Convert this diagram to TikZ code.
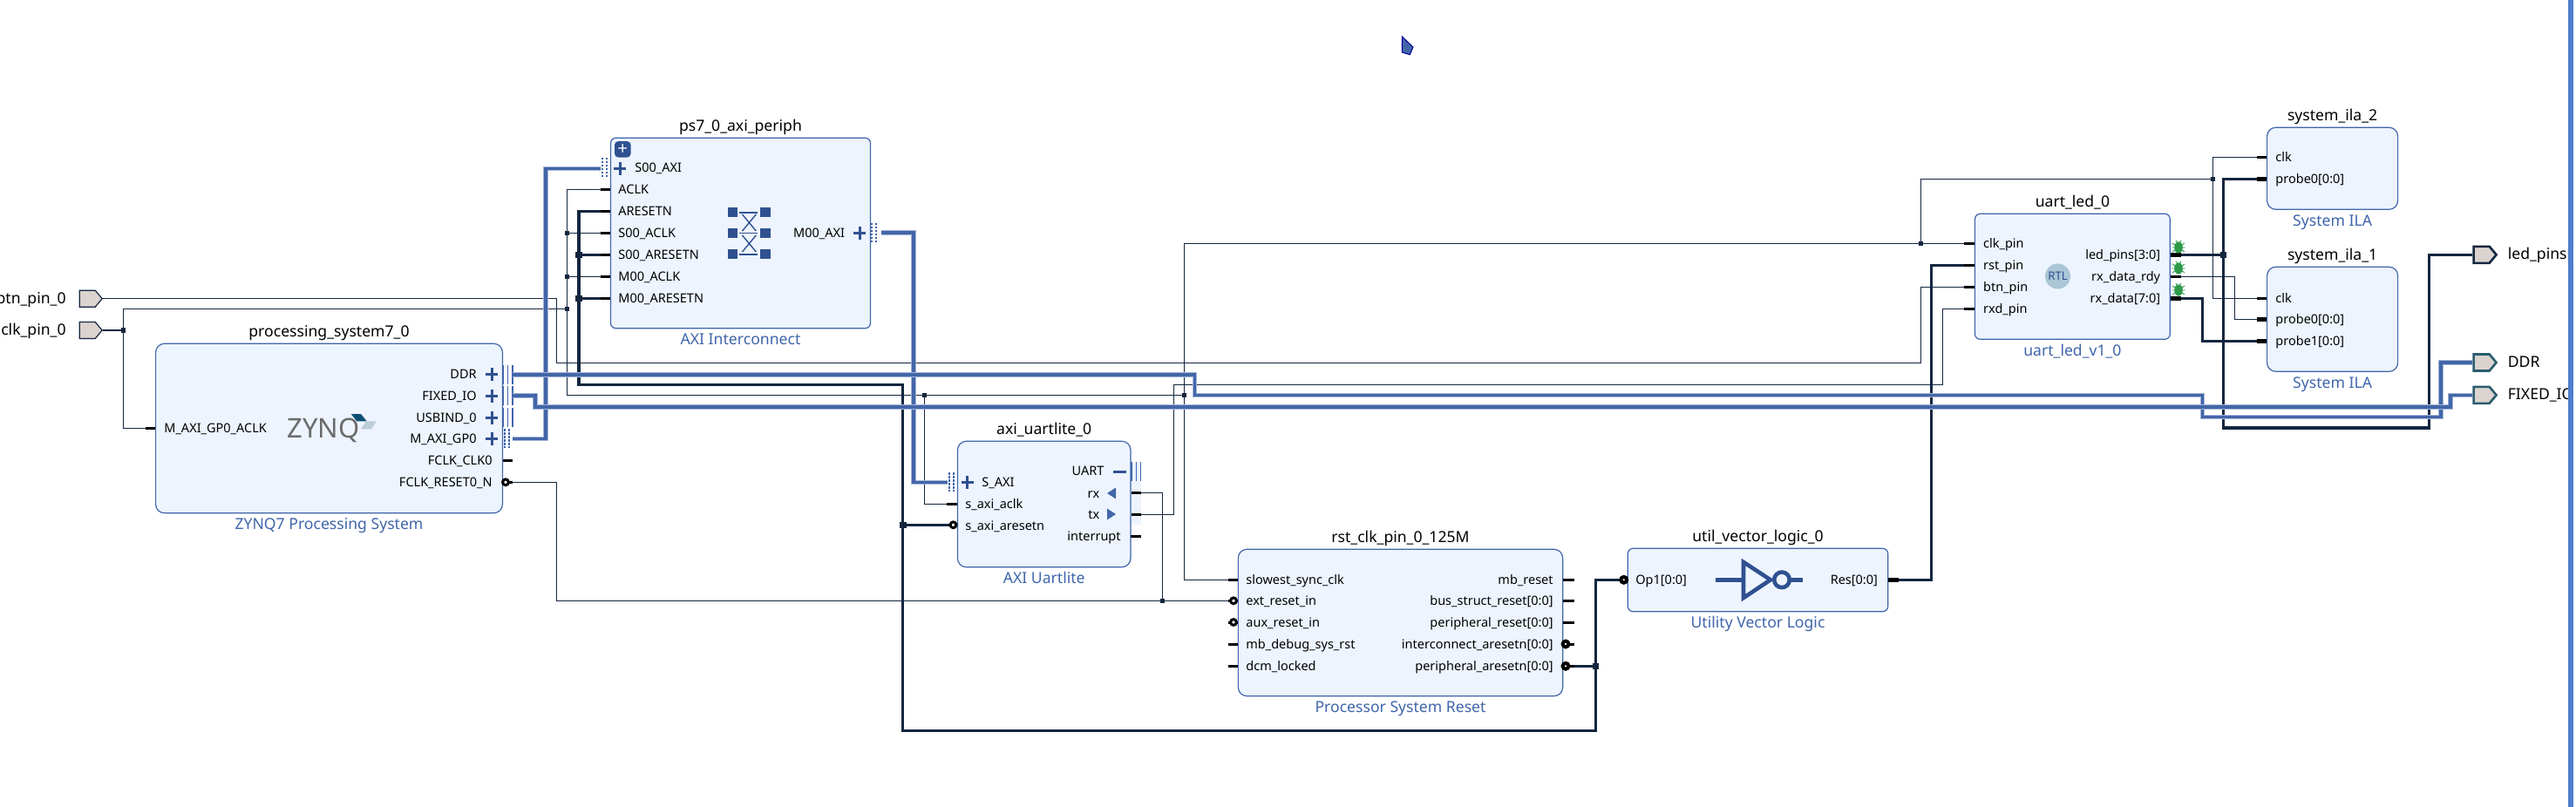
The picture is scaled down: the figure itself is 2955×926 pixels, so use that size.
\documentclass[tikz,border=0pt]{standalone}
\usepackage{fontspec}
\setmainfont{Noto Sans}
\usetikzlibrary{positioning, shapes.symbols}
\definecolor{netcol}{HTML}{13263F}
\definecolor{buscol}{HTML}{4366A8}
\definecolor{halocol}{HTML}{A3B5D8}
\definecolor{blockfill}{HTML}{EDF4FE}
\definecolor{blockline}{HTML}{3F65AB}
\definecolor{iconcol}{HTML}{2F5190}
\definecolor{portfill}{HTML}{DBD3CF}
\definecolor{ddrcol}{HTML}{2A5D6E}
\definecolor{rtlcol}{HTML}{ABC6D6}
\definecolor{bugcol}{HTML}{2E9A4A}
\definecolor{edgecol}{HTML}{4F7ECB}
\definecolor{logodark}{HTML}{0D4F74}
\definecolor{logolight}{HTML}{BCCDD8}
\tikzset{
    block/.style={draw=blockline, fill=blockfill, line width=0.6pt, inner sep=0pt, rounded corners=5pt},
    chamfer block/.style={draw=blockline, fill=blockfill, line width=0.6pt, inner sep=0pt, rounded corners=3pt},
    blocktitle/.style={inner sep=0pt, text height=8pt, text depth=2.5pt, font=\fontsize{8.8}{10}\selectfont},
    blocktype/.style={inner sep=0pt, text height=8pt, text depth=2.5pt, text=blockline, font=\fontsize{8.8}{10}\selectfont},
    pinlabel/.style={inner sep=0pt, text height=7pt, text depth=2pt, font=\fontsize{7.25}{8}\selectfont},
    stub/.style={line width=1.5pt, black},
    fatstub/.style={line width=2.4pt, black},
    bubble/.style={draw=black, fill=white, line width=1.5pt},
    darkbubble/.style={draw=black, fill=white, line width=2pt},
    wire/.style={line width=0.65pt, netcol},
    fatwire/.style={line width=1.7pt, netcol},
    bus/.style={line width=0.5pt, draw=halocol, double=buscol, double distance=1.8pt},
    jct/.style={fill=netcol, inner sep=0pt, minimum size=2.6pt},
    fatjct/.style={fill=netcol, inner sep=0pt, minimum size=3.8pt},
    extport/.style={signal, signal to=east, signal pointer angle=100, fill=portfill, inner sep=0pt, minimum width=13pt, minimum height=9.5pt, anchor=west},
    plusmark/.pic={\draw[line width=1.5pt, iconcol] (-7,0) -- (7,0) (0,-7.5) -- (0,7.5);},
    ifbus/.pic={\foreach \d in {0,5.2,10.4} {\draw[line width=0.6pt, blockline] (\d,-11) -- (\d,11);}},
    ifdots/.pic={\foreach \d in {0,5} {\draw[line width=1.1pt, blockline, dash pattern=on 1.2pt off 0.8pt] (\d,-11) -- (\d,11);}},
    bugicon/.pic={
        \draw[line width=0.45pt, bugcol] (-7,-5) -- (7,5) (-7,5) -- (7,-5) (-7.5,0) -- (7.5,0) (-3,-8) -- (0,-4) -- (3,-8);
        \fill[bugcol] (0,0) ellipse [x radius=2.4pt, y radius=3.3pt];},
}
\begin{document}
\begin{tikzpicture}[x=0.5pt, y=-0.5pt]
\useasboundingbox[fill=white] (0,0) rectangle (2955,926);
% Blocks
\node[block, minimum width=198.9pt, minimum height=97.2pt] (zynq) at (377.5,491.5) {};
\node[chamfer block, minimum width=149pt, minimum height=109.2pt] (periph) at (849.5,267.5) {};
\fill[blockfill] (1297,530) rectangle (1309,602);
\node[block, minimum width=99.25pt, minimum height=72.2pt] (uartlite) at (1197.7,578.5) {};
\node[block, minimum width=186.15pt, minimum height=84.2pt] (rstgen) at (1606.5,714.5) {};
\node[chamfer block, minimum width=149.2pt, minimum height=36.2pt] (vlogic) at (2016.5,665.5) {};
\node[chamfer block, minimum width=111.9pt, minimum height=72pt] (uartled) at (2377.4,317.3) {};
\node[block, minimum width=75pt, minimum height=47pt] (ilatwo) at (2675.6,193.3) {};
\node[block, minimum width=75pt, minimum height=60pt] (ilaone) at (2675.6,366.3) {};
\node[blocktitle, above=1pt of zynq] (zynqname) {processing\_system7\_0};
\node[blocktype, below=1pt of zynq] (zynqtype) {ZYNQ7 Processing System};
\node[blocktitle, above=1pt of periph] (periphname) {ps7\_0\_axi\_periph};
\node[blocktype, below=1pt of periph] (periphtype) {AXI Interconnect};
\node[blocktitle, above=1pt of uartlite] (uartlitename) {axi\_uartlite\_0};
\node[blocktype, below=1pt of uartlite] (uartlitetype) {AXI Uartlite};
\node[blocktitle, above=1pt of rstgen] (rstgenname) {rst\_clk\_pin\_0\_125M};
\node[blocktype, below=1pt of rstgen] (rstgentype) {Processor System Reset};
\node[blocktitle, above=1pt of vlogic] (vlogicname) {util\_vector\_logic\_0};
\node[blocktype, below=1pt of vlogic] (vlogictype) {Utility Vector Logic};
\node[blocktitle, above=1pt of uartled] (uartledname) {uart\_led\_0};
\node[blocktype, below=1pt of uartled] (uartledtype) {uart\_led\_v1\_0};
\node[blocktitle, above=1pt of ilatwo] (ilatwoname) {system\_ila\_2};
\node[blocktype, below=1pt of ilatwo] (ilatwotype) {System ILA};
\node[blocktitle, above=1pt of ilaone] (ilaonename) {system\_ila\_1};
\node[blocktype, below=1pt of ilaone] (ilaonetype) {System ILA};
% External ports
\node[extport, draw=netcol, line width=0.6pt] (btnport) at (90.6,342.7) {};
\node[extport, draw=netcol, line width=0.6pt] (clkport) at (90.6,379) {};
\node[extport, draw=netcol, line width=1.3pt] (ledport) at (2836.3,292.3) {};
\node[extport, draw=ddrcol, line width=1.3pt] (ddrport) at (2836.3,416) {};
\node[extport, draw=ddrcol, line width=1.3pt] (fixedport) at (2836.3,453.3) {};
\node[blocktitle, anchor=east] (btnname) at (76,342.7) {btn\_pin\_0};
\node[blocktitle, anchor=east] (clkname) at (76,379) {clk\_pin\_0};
\node[blocktitle, anchor=west] (ledname) at (2876.4,292.3) {led\_pins[3:0]};
\node[blocktitle, anchor=west] (ddrname) at (2876.4,416) {DDR};
\node[blocktitle, anchor=west] (fixedname) at (2876.4,453.3) {FIXED\_IO};
% Zynq pins
\node[pinlabel, anchor=west] (zyaclkl) at (188,491.3) {M\_AXI\_GP0\_ACLK};
\coordinate (zyaclk) at (166.5,491.3);
\draw[stub] (zyaclk) -- (zyaclk -| zynq.west);
\foreach \n/\y/\lab in {zyddr/429.7/DDR,zyfixed/454/FIXED\_IO,zyusb/479/USBIND\_0,zygp/503.3/M\_AXI\_GP0} {
    \node[pinlabel, anchor=east] (\n l) at (547,\y) {\lab};
    \pic at (564.3,\y) {plusmark};
    \coordinate (\n) at (588,\y);
}
\foreach \y in {429.7,454,479} {\pic at (577.5,\y) {ifbus};}
\pic at (579,503.3) {ifdots};
\node[pinlabel, anchor=east] (zyclkl) at (565,528) {FCLK\_CLK0};
\node[pinlabel, anchor=east] (zyrstl) at (565,553.3) {FCLK\_RESET0\_N};
\coordinate (zyrst) at (588,553.3);
\draw[stub] (577,528) -- (588,528);
\draw[stub] (zynq.east |- zyrst) -- (zyrst);
\draw[bubble] (zynq.east |- zyrst) ++(3,0) circle (1.7pt);
% Zynq logo
\node[inner sep=0pt, text=black!58, font=\fontsize{15.5}{16}\selectfont] (zynqlogo) at (371,494) {ZYNQ};
\fill[logodark] (402.7,475) -- (414,475) -- (420.7,483.3) -- (409.3,483.3) -- cycle;
\fill[logolight] (420,483.3) -- (432,483.3) -- (426,492.3) -- (414,492.3) -- cycle;
% Interconnect pins
\node[fill=iconcol, rounded corners=2pt, inner sep=0pt, minimum size=9.2pt, text=white, font=\bfseries\fontsize{10}{10}\selectfont] (periphplus) at (714.3,171.3) {+};
\node[pinlabel, anchor=west] (pss) at (728,192.5) {S00\_AXI};
\pic at (711,193.3) {plusmark};
\pic at (691,192) {ifdots};
\coordinate (psaxi) at (689,193.3);
\foreach \n/\y/\lab in {paclk/217.3/ACLK,parst/242.3/ARESETN,psclk/267.3/S00\_ACLK,psrst/292.3/S00\_ARESETN,pmclk/317.3/M00\_ACLK,pmrst/342.3/M00\_ARESETN} {
    \node[pinlabel, anchor=west] (\n l) at (709,\y) {\lab};
    \coordinate (\n) at (688.5,\y);
    \draw[stub] (\n) -- (\n -| periph.west);
}
\node[pinlabel, anchor=east] (pml) at (969.4,267) {M00\_AXI};
\pic at (986,267) {plusmark};
\pic at (1000,267) {ifdots};
\coordinate (pmaxi) at (1010.7,267);
% Crossbar icon
\foreach \x in {840.7,877.8} {\foreach \y in {243.5,267.3,291.5} {\fill[iconcol] (\x-5.7,\y-5.5) rectangle (\x+5.7,\y+5.5);}}
\foreach \y in {243.7,267.3,291.7} {\draw[line width=0.8pt, iconcol] (848,\y) -- (869.4,\y);}
\foreach \y in {246,270} {\draw[line width=0.7pt, iconcol] (851.5,\y) -- (867.3,\y+19) (867.3,\y) -- (851.5,\y+19);}
% Uartlite pins
\node[pinlabel, anchor=west] (usl) at (1126,553) {S\_AXI};
\pic at (1109.5,553.3) {plusmark};
\pic at (1089,553.3) {ifdots};
\coordinate (usaxi) at (1087,553.3);
\node[pinlabel, anchor=west] (ucl) at (1107,578.3) {s\_axi\_aclk};
\coordinate (uaclk) at (1086,578.3);
\draw[stub] (uaclk) -- (uaclk -| uartlite.west);
\node[pinlabel, anchor=west] (url) at (1107,603) {s\_axi\_aresetn};
\coordinate (uarst) at (1087.8,602.3);
\draw[stub] (uarst) -- (uarst -| uartlite.west);
\draw[bubble] (1093.5,602.3) circle (1.7pt);
\node[pinlabel, anchor=east] (uartl) at (1266.8,540.7) {UART};
\draw[line width=1.5pt, iconcol] (1277,541) -- (1292,541);
\pic at (1298,541) {ifbus};
\node[pinlabel, anchor=east] (rxl) at (1261.7,566) {rx};
\fill[buscol] (1270,566) -- (1280,559.5) -- (1280,572.5) -- cycle;
\node[pinlabel, anchor=east] (txl) at (1261.7,590) {tx};
\fill[buscol] (1280,590) -- (1270,583.5) -- (1270,596.5) -- cycle;
\node[pinlabel, anchor=east] (intl) at (1286,615) {interrupt};
\coordinate (urx) at (1308.7,565.3);
\coordinate (utx) at (1308.7,590.3);
\draw[stub] (uartlite.east |- urx) -- (urx);
\draw[stub] (uartlite.east |- utx) -- (utx);
\draw[stub] (1297,615) -- (1308.7,615);
% Reset pins
\foreach \n/\y/\lab in {rslow/665.3/slowest\_sync\_clk,rext/689.3/ext\_reset\_in,raux/714/aux\_reset\_in,rdbg/739/mb\_debug\_sys\_rst,rdcm/764/dcm\_locked} {
    \node[pinlabel, anchor=west] (\n l) at (1429,\y) {\lab};
    \coordinate (\n) at (1409,\y);
    \draw[stub] (\n) -- (\n -| rstgen.west);
}
\foreach \y in {689.3,714} {\draw[bubble] (1415,\y) circle (1.7pt);}
\foreach \n/\y/\lab in {rmb/665.3/mb\_reset,rbus/689.3/bus\_struct\_reset[0:0],rper/714/peripheral\_reset[0:0],rint/739/interconnect\_aresetn[0:0],rpar/764.3/peripheral\_aresetn[0:0]} {
    \node[pinlabel, anchor=east] (\n l) at (1782,\y) {\lab};
    \coordinate (\n) at (1805.7,\y);
    \draw[stub] (\n -| rstgen.east) -- (\n);
}
\foreach \y in {739,764.3} {\draw[darkbubble] (1796,\y) circle (1.7pt);}
% Vector logic pins and inverter
\node[pinlabel, anchor=west] (vopl) at (1876,665.3) {Op1[0:0]};
\coordinate (vop) at (1856.7,665.3);
\draw[stub] (vop) -- (vop -| vlogic.west);
\draw[darkbubble] (1862.7,665.3) circle (1.7pt);
\node[pinlabel, anchor=east] (vresl) at (2154.3,665.3) {Res[0:0]};
\coordinate (vres) at (2178.3,665.3);
\draw[fatstub] (vres -| vlogic.east) -- (vres);
\draw[line width=2.3pt, iconcol] (1968,665.3) -- (2000,665.3) (2054,665.3) -- (2067.7,665.3);
\draw[line width=2.3pt, iconcol] (2000,645) -- (2000,686) -- (2031,665.3) -- cycle;
\draw[line width=2.3pt, iconcol] (2044,665.3) circle (4.4pt);
% uart_led pins
\foreach \n/\y/\lab in {lclk/279.7/clk\_pin,lrst/304.3/rst\_pin,lbtn/329.3/btn\_pin,lrxd/354.3/rxd\_pin} {
    \node[pinlabel, anchor=west] (\n l) at (2274.7,\y) {\lab};
    \coordinate (\n) at (2252.7,\y);
    \draw[stub] (\n) -- (\n -| uartled.west);
}
\foreach \n/\y/\lab in {lled/292.3/led\_pins[3:0],lrdy/317.3/rx\_data\_rdy,ldat/342.3/rx\_data[7:0]} {
    \node[pinlabel, anchor=east] (\n l) at (2478.5,\y) {\lab};
    \coordinate (\n) at (2501.5,\y);
}
\draw[fatstub] (lled -| uartled.east) -- (lled);
\draw[stub] (lrdy -| uartled.east) -- (lrdy);
\draw[fatstub] (ldat -| uartled.east) -- (ldat);
\foreach \y in {284,308,333} {\pic at (2499,\y) {bugicon};}
\node[circle, fill=rtlcol, inner sep=0pt, minimum size=14.5pt, text=iconcol, font=\bfseries\fontsize{6.6}{7}\selectfont] (rtlicon) at (2360.5,317) {RTL};
% ILA pins
\foreach \n/\y/\lab in {itclk/180.3/clk,itp/205.3/probe0[0:0],ioclk/342.3/clk,iop/366.7/probe0[0:0],ioq/391.7/probe1[0:0]} {
    \node[pinlabel, anchor=west] (\n l) at (2610,\y) {\lab};
    \coordinate (\n) at (2589,\y);
}
\draw[stub] (itclk) -- (itclk -| ilatwo.west);
\draw[fatstub] (itp) -- (itp -| ilatwo.west);
\draw[stub] (ioclk) -- (ioclk -| ilaone.west);
\draw[fatstub] (iop) -- (iop -| ilaone.west);
\draw[fatstub] (ioq) -- (ioq -| ilaone.west);
% Junctions
\coordinate (jclka) at (141.5,379);
\coordinate (jclkb) at (650.5,354.3);
\coordinate (jclkc) at (1060.2,453.3);
\coordinate (jclkd) at (1358.7,453.3);
\coordinate (jclke) at (2203.4,279.7);
\coordinate (jclkf) at (2538.6,205.3);
\coordinate (jclkg) at (650.5,267.3);
\coordinate (jclkh) at (650.5,317.3);
\coordinate (jrst) at (1333.7,689.3);
\coordinate (jarsa) at (1830.3,764.3);
\coordinate (jarsb) at (1035.7,602.3);
\coordinate (jarsc) at (663.8,292.3);
\coordinate (jarsd) at (663.8,342.3);
\coordinate (jled) at (2550.4,292.3);
% Thin nets
\draw[wire] (clkport.east) -- (jclka);
\draw[wire] (jclka) |- (zyaclk);
\draw[wire] (jclka) |- (jclkb);
\draw[wire] (paclk) -| (jclkb);
\draw[wire] (psclk) -- (jclkg);
\draw[wire] (pmclk) -- (jclkh);
\draw[wire] (jclkb) |- (jclkc);
\draw[wire] (jclkc) -- (jclkd);
\draw[wire] (jclkc) |- (uaclk);
\draw[wire] (jclkd) |- (rslow);
\draw[wire] (jclkd) |- (jclke);
\draw[wire] (jclke) -- (lclk);
\draw[wire] (jclke) |- (jclkf);
\draw[wire] (jclkf) |- (itclk);
\draw[wire] (jclkf) |- (ioclk);
\draw[wire] (btnport.east) -| (638.4,416.3) -| (2203.4,329.3) -- (lbtn);
\draw[wire] (zyrst) -| (638.4,689.3) -- (jrst);
\draw[wire] (jrst) -- (rext);
\draw[wire] (urx) -| (jrst);
\draw[wire] (utx) -| (1346.4,441.3) -| (2228.5,354.3) -- (lrxd);
\draw[wire] (lrdy) -| (2563.2,366.7) -- (iop);
% Thick nets
\draw[fatwire] (rpar) -- (jarsa);
\draw[fatwire] (jarsa) |- (vop);
\draw[fatwire] (jarsa) |- (1035.7,838.3) |- (663.8,441.3) |- (parst);
\draw[fatwire] (jarsb) -- (uarst);
\draw[fatwire] (jarsc) -- (psrst);
\draw[fatwire] (jarsd) -- (pmrst);
\draw[fatwire] (vres) -| (2215.7,304.3) -- (lrst);
\draw[fatwire] (lled) -- (jled);
\draw[fatwire] (jled) |- (itp);
\draw[fatwire] (jled) |- (2786.6,491) |- (ledport.west);
\draw[fatwire] (ldat) -| (2526.3,391.7) -- (ioq);
% Buses
\draw[bus] (zygp) -| (626,193.3) -- (psaxi);
\draw[bus] (pmaxi) -| (1048,553.3) -- (usaxi);
\draw[bus] (zyddr) -| (1370.4,453.3) -| (2526.3,478.3) -| (2799.9,416) -- (ddrport.west);
\draw[bus] (zyfixed) -| (614,466.7) -| (2811.2,453.3) -- (fixedport.west);
\foreach \j in {jclka,jclkb,jclkc,jclkd,jclke,jclkf,jclkg,jclkh,jrst} {\node[jct] (n\j) at (\j) {};}
\foreach \j in {jarsa,jarsb,jarsc,jarsd,jled} {\node[fatjct] (n\j) at (\j) {};}
% Pointer and window edge
\fill[buscol, draw=blue!60!black, line width=0.5pt] (1608.3,42) -- (1621,54) -- (1617.3,62.7) -- (1608.3,60) -- cycle;
\fill[white] (2951,0) rectangle (2955,926);
\fill[edgecol] (2946,0) rectangle (2951.5,926);
\end{tikzpicture}
\end{document}
